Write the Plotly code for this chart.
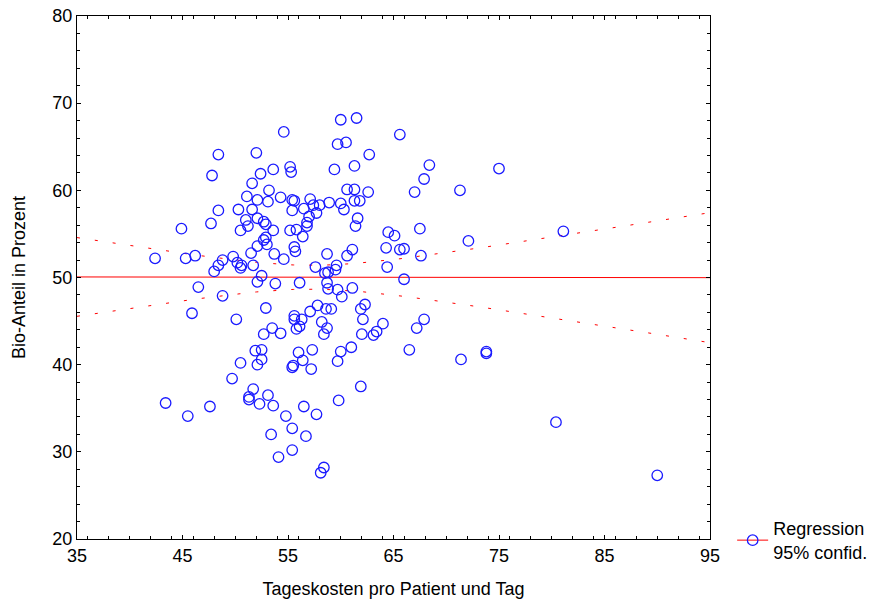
import numpy as np
import plotly.graph_objects as go

# Tageskosten pro Patient und Tag (x) / Bio-Anteil in Prozent (y)
kosten = [
    48.4, 52.0, 47.8, 52.4, 53.6, 51.6, 53.2, 51.1, 52.1, 53.1, 54.3, 50.3, 51.6, 48.4, 51.0,
    52.1, 51.2, 52.7, 52.9, 50.5, 53.6, 47.7, 44.9, 52.9, 52.7, 52.1, 53.0, 51.5, 53.7, 42.4,
    45.3, 46.2, 48.8, 49.8, 48.4, 48.0, 50.2, 50.6, 50.5, 51.7, 52.5, 52.1, 53.8, 46.5, 48.8,
    45.9, 50.1, 52.9, 53.5, 52.7, 51.9, 52.5, 52.5, 52.1, 50.5, 49.7, 51.7, 51.3, 51.3, 52.3,
    53.1, 53.6, 43.4, 45.5, 47.6, 53.4, 54.1,
    54.6, 60.0, 61.5, 65.6, 59.7, 60.5, 62.7, 68.4, 67.9, 71.3, 67.0, 55.2, 55.3, 59.4, 61.3,
    60.6, 61.3, 62.6, 55.4, 55.6, 57.1, 61.3, 61.8, 55.4, 56.5, 57.4, 58.0, 58.9, 60.0, 60.3,
    57.7, 57.0, 56.8, 56.8, 61.6, 61.4, 55.2, 55.8, 56.4, 55.6, 55.7, 54.6, 64.5, 65.1, 67.5,
    72.1, 64.3, 65.6, 66.0, 61.1, 60.6, 58.7, 67.6, 64.4, 57.6, 59.6, 59.5, 58.5, 58.8, 66.0,
    56.1, 58.7, 58.8, 59.7, 61.1, 60.1,
    62.3, 61.9, 62.1, 57.1, 57.8, 58.6, 59.1, 55.6, 55.6, 56.3, 56.1, 55.8, 58.2, 58.7, 58.4,
    54.3, 64.0, 63.4, 63.1, 62.0, 67.9, 67.2, 66.5, 71.4, 56.0, 57.3, 56.4, 55.5, 55.4, 57.2,
    60.0, 61.0, 59.7, 61.9, 59.8, 56.5, 57.7, 54.8, 55.4, 56.7, 55.4, 58.4, 58.1,
    75.0, 81.1, 73.8, 73.8, 80.4, 90.0,
]
bio = [
    64.1, 64.3, 61.7, 61.9, 62.4, 60.8, 60.0, 59.3, 58.9, 58.7, 59.2, 57.8, 57.8, 57.7, 56.6,
    56.8, 55.9, 56.4, 56.1, 55.4, 55.4, 56.2, 55.6, 54.6, 54.3, 53.6, 53.8, 52.8, 52.7, 52.2,
    52.2, 52.5, 52.0, 52.4, 51.4, 50.7, 51.7, 51.4, 51.1, 51.4, 50.2, 49.5, 49.3, 48.9, 47.9,
    45.9, 45.2, 46.5, 44.2, 43.5, 41.6, 41.7, 40.6, 40.0, 40.2, 38.4, 37.2, 36.3, 36.0, 35.5,
    36.5, 35.3, 35.6, 34.1, 35.2, 32.0, 29.4,
    66.7, 68.1, 68.3, 66.4, 65.3, 65.5, 64.1, 62.9, 61.3, 60.0, 59.8, 62.7, 62.1, 62.4, 62.8,
    60.1, 60.1, 59.8, 58.9, 58.8, 59.0, 58.8, 58.8, 57.7, 57.9, 58.3, 58.3, 58.6, 58.5, 57.8,
    57.4, 57.0, 56.3, 55.9, 56.8, 55.9, 55.4, 55.5, 54.7, 53.5, 53.0, 52.1, 55.2, 54.8, 55.6,
    54.2, 53.4, 53.2, 53.3, 53.2, 52.5, 52.7, 52.5, 51.2, 51.2, 51.4, 50.9, 50.5, 50.6, 49.8,
    49.4, 49.4, 48.7, 48.6, 48.8, 47.8,
    46.9, 46.4, 45.2, 46.1, 46.8, 46.4, 46.4, 45.6, 45.2, 45.2, 44.4, 44.1, 44.9, 44.2, 43.5,
    43.6, 44.7, 43.8, 43.4, 43.5, 45.2, 44.2, 41.7, 40.6, 41.4, 41.7, 40.5, 39.9, 39.7, 39.5,
    41.5, 42.0, 40.4, 37.5, 35.9, 35.2, 34.3, 34.1, 32.7, 31.8, 30.2, 28.2, 27.6,
    62.5, 55.3, 41.5, 41.3, 33.4, 27.3,
]

x_ticks = [35, 45, 55, 65, 75, 85, 95]
y_ticks = [20, 30, 40, 50, 60, 70, 80]

# linear regression with 95% confidence band, fitted from the data
x = np.array(kosten)
y = np.array(bio)
n = len(x)
b1, b0 = np.polyfit(x, y, 1)
resid = y - (b0 + b1 * x)
s = np.sqrt(np.sum(resid ** 2) / (n - 2))
xm = x.mean()
sxx = np.sum((x - xm) ** 2)
t = 1.973
xg = np.linspace(35, 95, 121)
yg = b0 + b1 * xg
hw = t * s * np.sqrt(1.0 / n + (xg - xm) ** 2 / sxx)

FONT = "Liberation Sans, Arial, sans-serif"
RED = "#ff0000"
BLUE = "#1a1aff"

fig = go.Figure()
fig.add_trace(go.Scatter(x=xg, y=yg, mode="lines", line=dict(color=RED, width=1),
                         showlegend=False, hoverinfo="skip"))
fig.add_trace(go.Scatter(x=xg, y=yg + hw, mode="lines", line=dict(color=RED, width=1, dash="3px,15px"),
                         showlegend=False, hoverinfo="skip"))
fig.add_trace(go.Scatter(x=xg, y=yg - hw, mode="lines", line=dict(color=RED, width=1, dash="3px,15px"),
                         showlegend=False, hoverinfo="skip"))
fig.add_trace(go.Scatter(x=kosten, y=bio, mode="markers",
                         marker=dict(symbol="circle-open", size=10.5, color=BLUE, line=dict(width=1.3, color=BLUE)),
                         showlegend=False))
fig.add_trace(go.Scatter(x=[None], y=[None], mode="lines+markers",
                         name="Regression<br>95% confid.",
                         line=dict(color=RED, width=1),
                         marker=dict(symbol="circle-open", size=10.5, color=BLUE, line=dict(width=1.3, color=BLUE))))

axis_common = dict(
    showline=True, linecolor="black", linewidth=1, mirror="allticks",
    ticks="inside", ticklen=4, tickcolor="black", showgrid=False, zeroline=False,
    automargin=False,
    tickfont=dict(family=FONT, size=18, color="black"),
    minor=dict(ticks="inside", ticklen=3, tickcolor="black", dtick=2, showgrid=False),
)
fig.update_xaxes(range=[35, 95], tickmode="array", tickvals=x_ticks, ticktext=[str(v) for v in x_ticks],
                 title=dict(text="Tageskosten pro Patient und Tag", font=dict(family=FONT, size=18, color="black"), standoff=17),
                 **axis_common)
fig.update_yaxes(range=[20, 80], tickmode="array", tickvals=y_ticks, ticktext=[str(v) for v in y_ticks],
                 title=dict(text="Bio-Anteil in Prozent", font=dict(family=FONT, size=18, color="black"), standoff=22),
                 **axis_common)
fig.update_layout(
    width=888, height=603,
    margin=dict(l=77, r=178, t=16, b=64),
    plot_bgcolor="white", paper_bgcolor="white",
    font=dict(family=FONT, size=18, color="black"),
    legend=dict(x=1.035, y=0.055, xanchor="left", yanchor="top", bgcolor="rgba(0,0,0,0)",
                font=dict(family=FONT, size=18, color="black"), itemwidth=31),
)
fig.write_html("out.html")
